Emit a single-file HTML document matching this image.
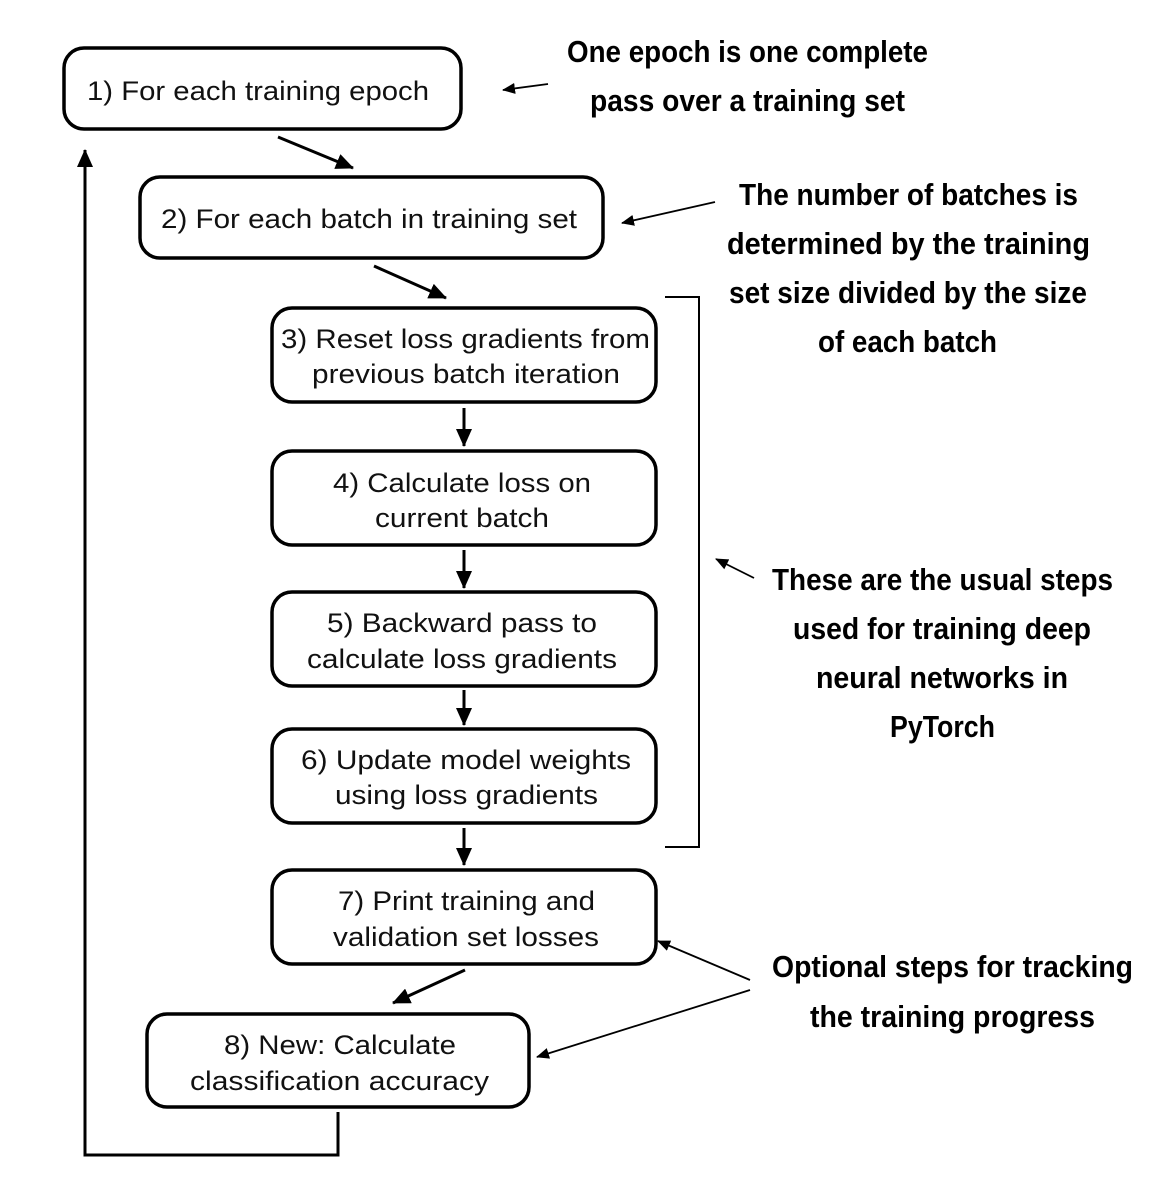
<!DOCTYPE html>
<html><head><meta charset="utf-8"><style>
html,body{margin:0;padding:0;background:#fff;}
svg{display:block;}
.b{fill:#fff;stroke:#000;stroke-width:3.5;}
.t{font-family:"Liberation Sans",sans-serif;font-size:27px;fill:#111;}
.a{font-family:"Liberation Sans Narrow","Liberation Sans",sans-serif;font-weight:bold;font-size:31px;fill:#000;}
.l{stroke:#000;stroke-width:3;fill:none;}
.th{stroke:#000;stroke-width:1.8;fill:none;}
</style></head><body>
<svg width="1162" height="1188" viewBox="0 0 1162 1188" xmlns="http://www.w3.org/2000/svg">
<defs>
<marker id="m" markerWidth="8" markerHeight="8" refX="7" refY="4" orient="auto" markerUnits="userSpaceOnUse" viewBox="0 0 8 8"><path d="M0,0 L8,4 L0,8 z"/></marker>
<marker id="M" markerWidth="18" markerHeight="16" refX="17" refY="8" orient="auto" markerUnits="userSpaceOnUse" viewBox="0 0 18 16"><path d="M0,0 L18,8 L0,16 z"/></marker>
<marker id="s" markerWidth="13" markerHeight="11" refX="12" refY="5.5" orient="auto" markerUnits="userSpaceOnUse" viewBox="0 0 13 11"><path d="M0,0 L13,5.5 L0,11 z"/></marker>
</defs>

<!-- boxes -->
<rect class="b" x="64" y="48" width="397" height="81" rx="20"/>
<rect class="b" x="140" y="177" width="463" height="81" rx="20"/>
<rect class="b" x="272" y="308" width="384" height="94" rx="20"/>
<rect class="b" x="272" y="451" width="384" height="94" rx="20"/>
<rect class="b" x="272" y="592" width="384" height="94" rx="20"/>
<rect class="b" x="272" y="729" width="384" height="94" rx="20"/>
<rect class="b" x="272" y="870" width="384" height="94" rx="20"/>
<rect class="b" x="147" y="1014" width="382" height="93" rx="20"/>

<!-- box text -->
<text class="t" x="87" y="100" textLength="342" lengthAdjust="spacingAndGlyphs">1) For each training epoch</text>
<text class="t" x="161" y="228" textLength="416" lengthAdjust="spacingAndGlyphs">2) For each batch in training set</text>
<text class="t" x="281" y="348" textLength="369" lengthAdjust="spacingAndGlyphs">3) Reset loss gradients from</text>
<text class="t" x="312" y="383" textLength="308" lengthAdjust="spacingAndGlyphs">previous batch iteration</text>
<text class="t" x="333" y="492" textLength="258" lengthAdjust="spacingAndGlyphs">4) Calculate loss on</text>
<text class="t" x="375" y="527" textLength="174" lengthAdjust="spacingAndGlyphs">current batch</text>
<text class="t" x="327" y="632" textLength="270" lengthAdjust="spacingAndGlyphs">5) Backward pass to</text>
<text class="t" x="307" y="668" textLength="310" lengthAdjust="spacingAndGlyphs">calculate loss gradients</text>
<text class="t" x="301" y="769" textLength="330" lengthAdjust="spacingAndGlyphs">6) Update model weights</text>
<text class="t" x="335" y="804" textLength="263" lengthAdjust="spacingAndGlyphs">using loss gradients</text>
<text class="t" x="338" y="910" textLength="257" lengthAdjust="spacingAndGlyphs">7) Print training and</text>
<text class="t" x="333" y="946" textLength="266" lengthAdjust="spacingAndGlyphs">validation set losses</text>
<text class="t" x="224" y="1054" textLength="232" lengthAdjust="spacingAndGlyphs">8) New: Calculate</text>
<text class="t" x="190" y="1090" textLength="299" lengthAdjust="spacingAndGlyphs">classification accuracy</text>

<!-- flow arrows -->
<line class="l" x1="278" y1="137" x2="353" y2="168" marker-end="url(#M)"/>
<line class="l" x1="374" y1="266" x2="446" y2="298" marker-end="url(#M)"/>
<line class="l" x1="464" y1="408" x2="464" y2="446" marker-end="url(#M)"/>
<line class="l" x1="464" y1="550" x2="464" y2="588" marker-end="url(#M)"/>
<line class="l" x1="464" y1="690" x2="464" y2="725" marker-end="url(#M)"/>
<line class="l" x1="464" y1="828" x2="464" y2="865" marker-end="url(#M)"/>
<line class="l" x1="465" y1="970" x2="393" y2="1003" marker-end="url(#M)"/>
<polyline class="l" points="338,1112 338,1155 85,1155 85,150" marker-end="url(#M)"/>

<!-- bracket -->
<polyline class="th" style="stroke-width:2" points="665,297 699,297 699,847 665,847"/>

<!-- annotation arrows -->
<line class="th" x1="548" y1="84" x2="503" y2="90" marker-end="url(#s)"/>
<line class="th" x1="715" y1="202" x2="622" y2="223" marker-end="url(#s)"/>
<line class="th" x1="754" y1="578" x2="716" y2="559" marker-end="url(#s)"/>
<line class="th" x1="750" y1="980" x2="658" y2="941" marker-end="url(#s)"/>
<line class="th" x1="750" y1="990" x2="537" y2="1057" marker-end="url(#s)"/>

<!-- annotations -->
<text class="a" x="567" y="62" textLength="361" lengthAdjust="spacingAndGlyphs">One epoch is one complete</text>
<text class="a" x="590" y="111" textLength="315" lengthAdjust="spacingAndGlyphs">pass over a training set</text>

<text class="a" x="739" y="205" textLength="339" lengthAdjust="spacingAndGlyphs">The number of batches is</text>
<text class="a" x="727" y="254" textLength="363" lengthAdjust="spacingAndGlyphs">determined by the training</text>
<text class="a" x="729" y="303" textLength="358" lengthAdjust="spacingAndGlyphs">set size divided by the size</text>
<text class="a" x="818" y="352" textLength="179" lengthAdjust="spacingAndGlyphs">of each batch</text>

<text class="a" x="772" y="590" textLength="341" lengthAdjust="spacingAndGlyphs">These are the usual steps</text>
<text class="a" x="793" y="639" textLength="298" lengthAdjust="spacingAndGlyphs">used for training deep</text>
<text class="a" x="816" y="688" textLength="252" lengthAdjust="spacingAndGlyphs">neural networks in</text>
<text class="a" x="890" y="737" textLength="105" lengthAdjust="spacingAndGlyphs">PyTorch</text>

<text class="a" x="772" y="977" textLength="361" lengthAdjust="spacingAndGlyphs">Optional steps for tracking</text>
<text class="a" x="810" y="1027" textLength="285" lengthAdjust="spacingAndGlyphs">the training progress</text>
</svg>
</body></html>
